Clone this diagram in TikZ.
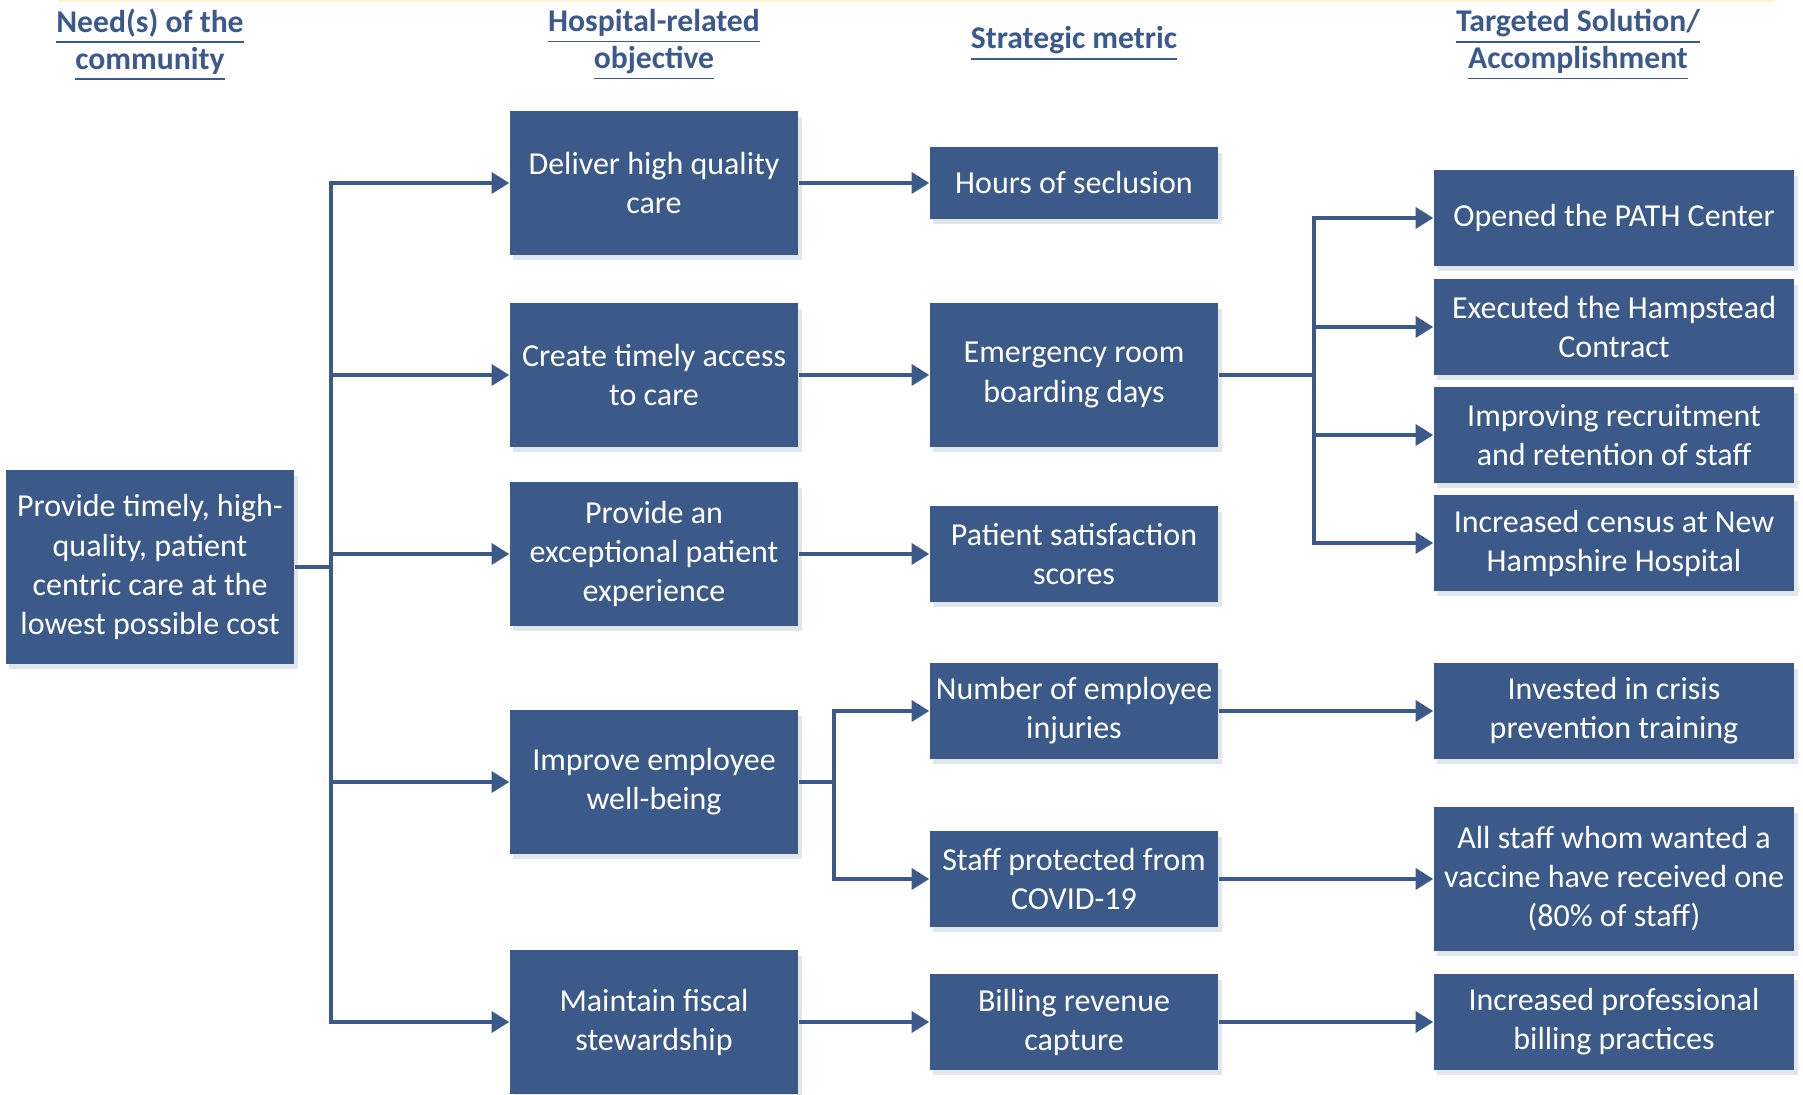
\documentclass[tikz,border=0pt]{standalone}
\usepackage{fontspec}
\setmainfont{Carlito}
\usepackage{tikz}
\usetikzlibrary{arrows.meta,shadows}
\definecolor{boxblue}{RGB}{59,89,137}
\definecolor{headblue}{RGB}{59,89,140}
\definecolor{paleline}{RGB}{255,242,214}
\tikzstyle{goal} = [rectangle, minimum width=2.88cm, minimum height=1.43cm, align=center, fill=boxblue, text=white, inner xsep=1pt, inner ysep=2pt, font=\fontsize{9.1}{11.1}\selectfont, drop shadow={shadow xshift=1pt, shadow yshift=-1.5pt, fill=boxblue!30, opacity=0.5}]
\tikzstyle{metric} = [goal, minimum height=0.95cm]
\tikzstyle{result} = [goal, minimum width=3.6cm, minimum height=0.95cm]
\tikzstyle{header} = [align=center, text=headblue, font=\bfseries\fontsize{9}{10.5}\selectfont]
\tikzstyle{link} = [line width=0.9pt, draw=boxblue]
\tikzstyle{arrow} = [link, -{Triangle[length=5pt,width=6pt]}]

\begin{document}
\begin{tikzpicture}[x=0.01cm, y=-0.01cm]
\useasboundingbox (0,0) rectangle (1803,1095);
\draw[paleline, line width=0.6pt] (58,1) -- (1775,1);
% Column headers
\node[header] (h1) at (150,45) {\underline{Need(s) of the}\\\underline{community}};
\node[header] (h2) at (654,45) {\underline{Hospital-related}\\\underline{objective}};
\node[header] (h3) at (1074,44) {\underline{Strategic metric}};
\node[header] (h4) at (1578,45) {\underline{Targeted Solution/}\\\underline{Accomplishment}};

% Need of the community
\node[goal, minimum height=1.93cm] (need) at (150,567) {Provide timely, high-\\quality, patient\\centric care at the\\lowest possible cost};

% Objectives
\node[goal] (deliver) at (654,183) {Deliver high quality\\care};
\node[goal] (access) at (654,375) {Create timely access\\to care};
\node[goal] (experience) at (654,554) {Provide an\\exceptional patient\\experience};
\node[goal] (wellbeing) at (654,782) {Improve employee\\well-being};
\node[goal] (fiscal) at (654,1022) {Maintain fiscal\\stewardship};

% Metrics
\node[metric, minimum height=0.71cm] (seclusion) at (1074,183) {Hours of seclusion};
\node[goal] (boarding) at (1074,375) {Emergency room\\boarding days};
\node[metric] (satisfaction) at (1074,554) {Patient satisfaction\\scores};
\node[metric] (injuries) at (1074,711) {Number of employee\\injuries};
\node[metric] (covid) at (1074,879) {Staff protected from\\COVID-19};
\node[metric] (billing) at (1074,1022) {Billing revenue\\capture};

% Solutions
\node[result] (path) at (1614,218) {Opened the PATH Center};
\node[result] (hampstead) at (1614,327) {Executed the Hampstead\\Contract};
\node[result] (staff) at (1614,435) {Improving recruitment\\and retention of staff};
\node[result] (census) at (1614,543) {Increased census at New\\Hampshire Hospital};
\node[result] (crisis) at (1614,711) {Invested in crisis\\prevention training};
\node[result, minimum height=1.43cm] (vaccine) at (1614,879) {All staff whom wanted a\\vaccine have received one\\(80\% of staff)};
\node[result] (practices) at (1614,1022) {Increased professional\\billing practices};

% Connectors
\coordinate (j1) at (331,567);
\coordinate (j2) at (834,782);
\coordinate (j3) at (1314,375);

\draw[link] (need) -- (j1);
\draw[arrow] (j1) |- (deliver.west);
\draw[arrow] (j1) |- (access.west);
\draw[arrow] (j1) |- (experience.west);
\draw[arrow] (j1) |- (wellbeing.west);
\draw[arrow] (j1) |- (fiscal.west);

\draw[arrow] (deliver) -- (seclusion);
\draw[arrow] (access) -- (boarding);
\draw[arrow] (experience) -- (satisfaction);
\draw[link] (wellbeing) -- (j2);
\draw[arrow] (j2) |- (injuries.west);
\draw[arrow] (j2) |- (covid.west);
\draw[arrow] (fiscal) -- (billing);

\draw[link] (boarding) -- (j3);
\draw[arrow] (j3) |- (path.west);
\draw[arrow] (j3) |- (hampstead.west);
\draw[arrow] (j3) |- (staff.west);
\draw[arrow] (j3) |- (census.west);
\draw[arrow] (injuries) -- (crisis);
\draw[arrow] (covid) -- (vaccine);
\draw[arrow] (billing) -- (practices);
\end{tikzpicture}
\end{document}
